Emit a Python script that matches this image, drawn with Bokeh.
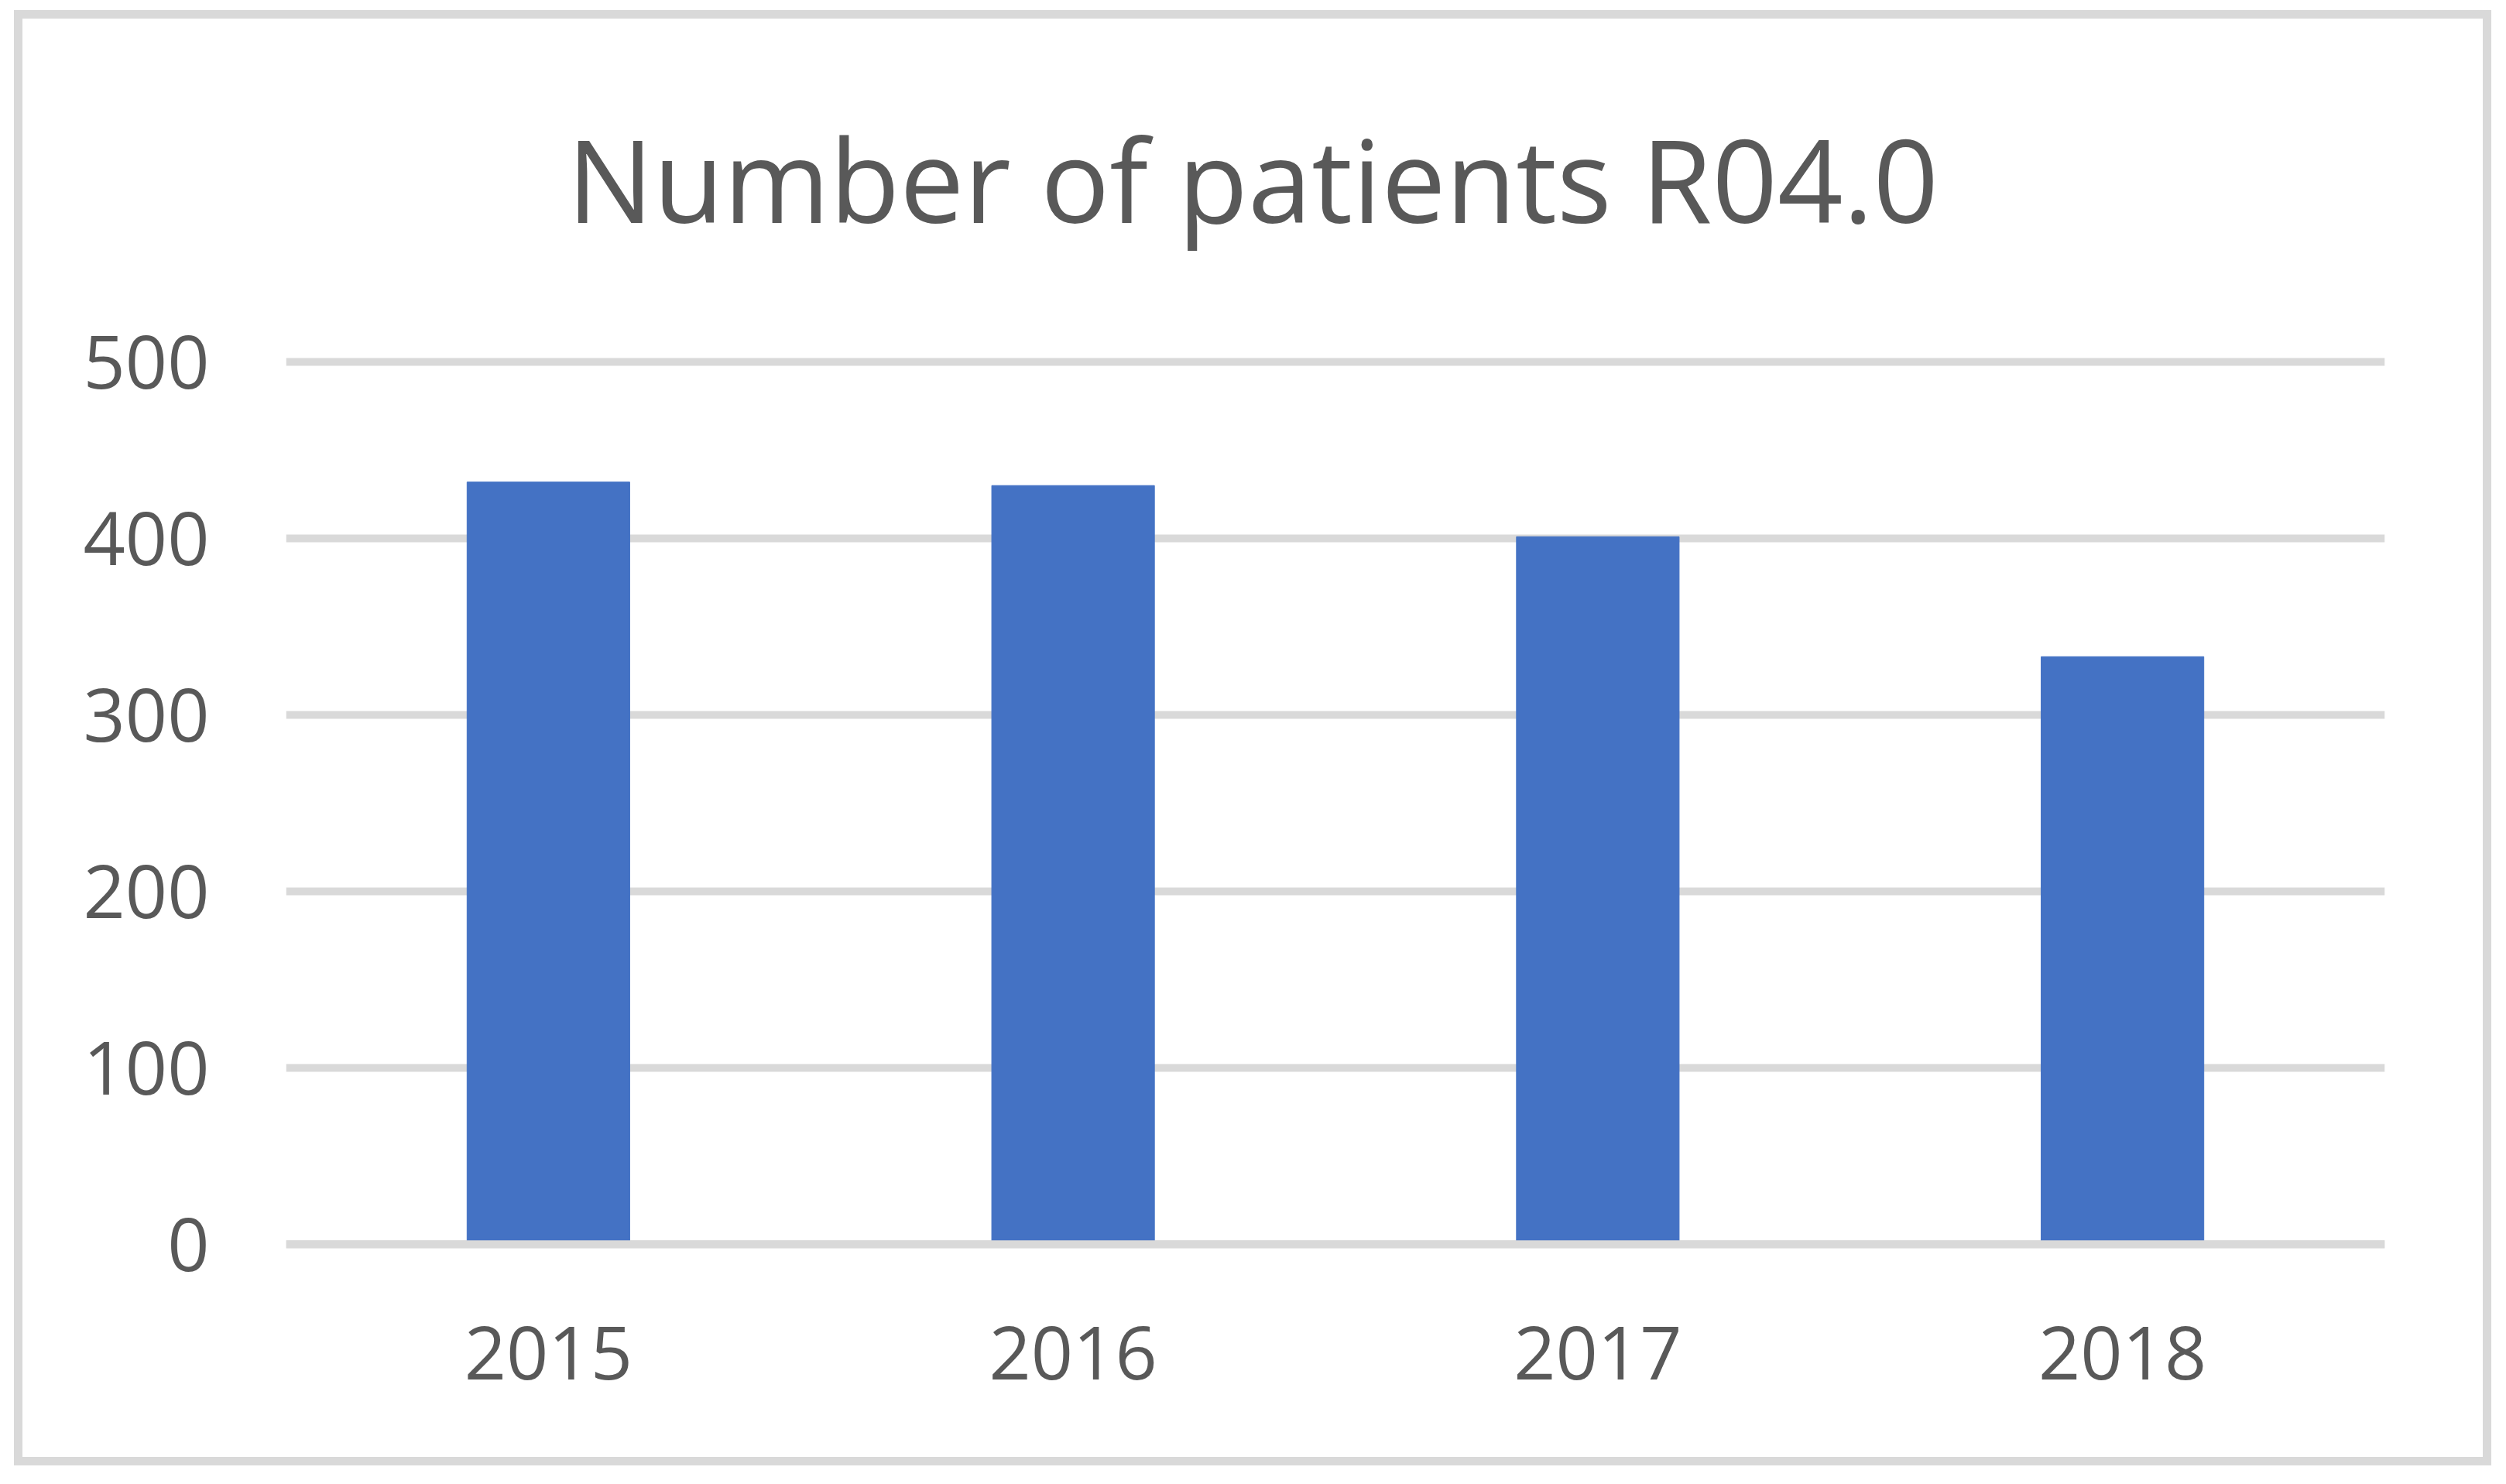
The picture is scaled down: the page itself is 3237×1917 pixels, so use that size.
from bokeh.plotting import figure
from bokeh.models import FactorRange, Range1d, FixedTicker, Span
from bokeh.embed import file_html
from bokeh.resources import INLINE

years = ["2015", "2016", "2017", "2018"]
patients = [432, 430, 401, 333]
y_ticks = [0, 100, 200, 300, 400, 500]
title_text = "Number of patients R04.0"

FONT = "Open Sans"
TXT = "#595959"
GRID = "#D9D9D9"

p = figure(
    width=3200, height=1880,
    x_range=FactorRange(factors=years, range_padding=0),
    y_range=Range1d(-15, 515),
    output_backend="svg", toolbar_location=None,
    min_border_left=340, min_border_right=149,
    min_border_top=409, min_border_bottom=263,
    title=title_text,
    styles={"border": "11px solid #D9D9D9", "margin-left": "18px", "margin-top": "13px"},
)
p.outline_line_color = None
p.background_fill_color = "white"
p.border_fill_color = "white"

p.title.align = "left"
p.title.offset = 363
p.title.text_font = FONT
p.title.text_font_size = "148px"
p.title.text_font_style = "normal"
p.title.text_color = TXT
if hasattr(p.title, "standoff"):
    p.title.standoff = 206

p.vbar(x=years, top=patients, width=0.31, color="#4472C4")

p.xgrid.grid_line_color = None
p.ygrid.ticker = FixedTicker(ticks=y_ticks)
p.ygrid.grid_line_color = GRID
p.ygrid.grid_line_width = 10

p.add_layout(Span(location=0, dimension="width", line_color=GRID, line_width=10, level="overlay"))

for ax in (p.xaxis[0], p.yaxis[0]):
    ax.axis_line_color = None
    ax.major_tick_line_color = None
    ax.minor_tick_line_color = None
    ax.major_tick_in = 0
    ax.major_tick_out = 0
    ax.major_label_text_font = FONT
    ax.major_label_text_font_size = "95px"
    ax.major_label_text_color = TXT

p.yaxis[0].ticker = FixedTicker(ticks=y_ticks)
p.yaxis[0].major_label_standoff = 99
p.xaxis[0].major_label_standoff = 71

open("out.html", "w").write(file_html(p, INLINE))
